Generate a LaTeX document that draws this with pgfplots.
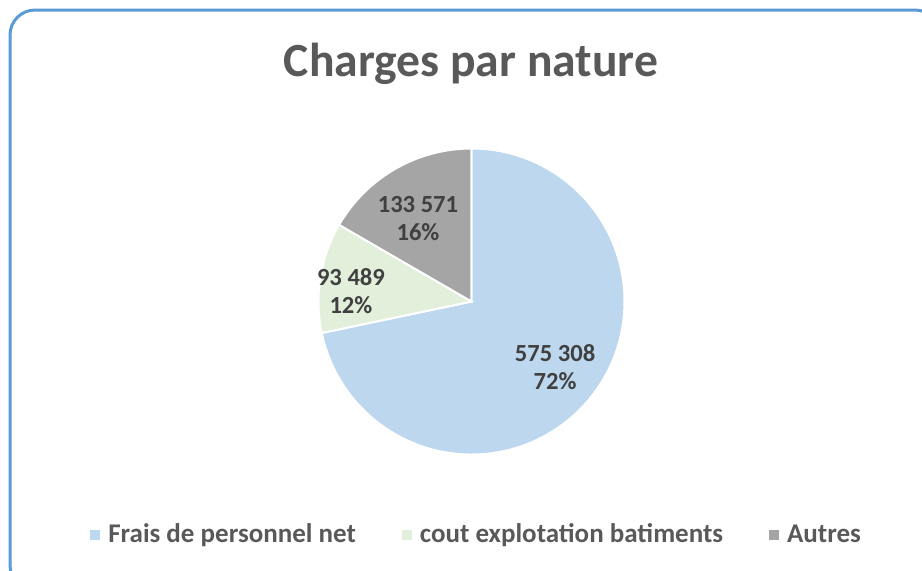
\documentclass[border=0pt]{standalone}
\usepackage{pgfplots}
\pgfplotsset{compat=1.18}
\usepackage{fontspec}
\setmainfont{Carlito}
\definecolor{sliceA}{HTML}{BDD7EE}
\definecolor{sliceB}{HTML}{E2EFDA}
\definecolor{sliceC}{HTML}{A5A5A5}
\definecolor{frame}{HTML}{5B9BD5}
\definecolor{titlec}{HTML}{595959}
\definecolor{lblc}{HTML}{404040}

% values of the three slices
\def\vA{575308}\def\vB{93489}\def\vC{133571}
\edef\tot{\fpeval{\vA+\vB+\vC}}
\edef\aA{90}
\edef\aB{\fpeval{90-360*\vA/\tot}}
\edef\aC{\fpeval{\aB-360*\vB/\tot}}
\edef\aD{\fpeval{\aC-360*\vC/\tot}}

\begin{document}
\begin{tikzpicture}[
  lbl/.style={font=\fontsize{12.3}{14}\selectfont\bfseries, text=lblc, align=center}]
\begin{scope}[x=0.5pt,y=-0.5pt]
  \path[use as bounding box] (0,0) rectangle (922,570);
  \draw[frame, line width=1.5pt, rounded corners=12.5pt] (10,10) rectangle (940,590);
  \node[font=\fontsize{23.8}{28}\selectfont\bfseries, text=titlec, anchor=base]
    at (471,76) {Charges par nature};
\end{scope}
\begin{axis}[
  at={(235.75pt,-150.75pt)}, anchor=center,
  width=153pt, height=153pt, scale only axis,
  hide axis, clip=false,
  xmin=-1, xmax=1, ymin=-1, ymax=1,
  legend columns=3,
  legend style={draw=none, fill=none,
    at={(0.52,-0.263)}, anchor=center,
    font=\fontsize{13.5}{16}\selectfont\bfseries, text=titlec,
    /tikz/every even column/.append style={column sep=21pt}},
]
\fill[sliceA, draw=white, line width=1pt] (0,0) -- ++(\aA:76.5pt)
  arc[start angle=\aA, end angle=\aB, radius=76.5pt] -- cycle;
\fill[sliceB, draw=white, line width=1pt] (0,0) -- ++(\aB:76.5pt)
  arc[start angle=\aB, end angle=\aC, radius=76.5pt] -- cycle;
\fill[sliceC, draw=white, line width=1pt] (0,0) -- ++(\aC:76.5pt)
  arc[start angle=\aC, end angle=\aD, radius=76.5pt] -- cycle;

\path (0,0) ++(-38:53pt) node[lbl] {575~308\\72\%};
\path (0,0) ++(175:60.5pt) node[lbl] {93~489\\12\%};
\path (0,0) ++(122.8:49.4pt) node[lbl] {133~571\\16\%};

\addlegendimage{legend image code/.code={
  \fill[sliceA, draw=none] (0pt,-2.5pt) rectangle (5pt,2.5pt);
  \path[draw=none] (0pt,0pt) -- (7pt,0pt);}}
\addlegendentry{Frais de personnel net}
\addlegendimage{legend image code/.code={
  \fill[sliceB, draw=none] (0pt,-2.5pt) rectangle (5pt,2.5pt);
  \path[draw=none] (0pt,0pt) -- (7pt,0pt);}}
\addlegendentry{cout explotation batiments}
\addlegendimage{legend image code/.code={
  \fill[sliceC, draw=none] (0pt,-2.5pt) rectangle (5pt,2.5pt);
  \path[draw=none] (0pt,0pt) -- (7pt,0pt);}}
\addlegendentry{Autres}
\end{axis}
\end{tikzpicture}
\end{document}
